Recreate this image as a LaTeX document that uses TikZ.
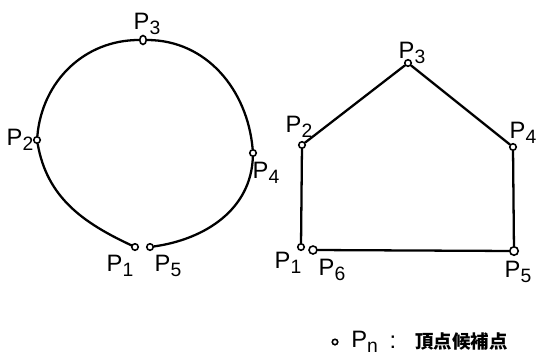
\documentclass[tikz,border=0pt]{standalone}
\usepackage{fontspec}
\setmainfont{Liberation Sans}
\newfontfamily\cjk{Noto Sans CJK JP}
\usetikzlibrary{shapes.geometric}
\newcommand{\plab}[1]{P\raisebox{-0.35ex}{\fontsize{11}{11}\selectfont #1}}

\begin{document}
\begin{tikzpicture}[x=0.02cm, y=0.02cm,
        vtx/.style={circle, draw, line width=0.9pt, fill=white, inner sep=0pt, minimum size=0.13cm},
        curve/.style={line width=1.3pt, line cap=round, line join=round},
        lbl/.style={font=\fontsize{13.5}{13.5}\selectfont, inner sep=0pt},
        ]
        \useasboundingbox (0,0) rectangle (545,356);

        % Left figure: closed curve with vertex candidates
        \foreach \n/\x/\y in {L1/135/109, L2/37/216, L4/253/203, L5/150/109} {
            \node[vtx] (\n) at (\x,\y) {};
        }
        \node[vtx, ellipse, minimum width=0.13cm, minimum height=0.18cm] (L3) at (143,316) {};
        \draw[curve] (L1) to[out=155, in=-80] (L2) to[out=85, in=180] (L3)
            to[out=0, in=95] (L4) to[out=-92, in=8] (L5);

        % Right figure: polygon
        \foreach \n/\x/\y in {R1/301/109, R2/302/211, R3/408/293, R4/513/209} {
            \node[vtx] (\n) at (\x,\y) {};
        }
        \node[vtx, minimum size=0.17cm] (R5) at (514,105) {};
        \node[vtx, minimum size=0.16cm] (R6) at (313,106) {};
        \draw[curve] (R1) -- (R2) -- (R3) -- (R4) -- (R5) -- (R6);

        % Labels
        \foreach \n/\k/\x/\y in {
            L1/1/120/90, L2/2/20/216, L3/3/147/332, L4/4/266/183, L5/5/168/90, % Left
            R1/1/288/93, R2/2/299/229, R3/3/412/303, R4/4/523/223, R5/5/518/84, R6/6/332/86 % Right
        } {
            \node[lbl] (t\n) at (\x,\y) {\plab{\k}};
        }

        % Legend
        \node[vtx, minimum size=0.11cm] (leg) at (335,14) {};
        \node[lbl, anchor=west] (legP) at (351,14) {\plab{n}};
        \node[lbl] (legC) at (393,14) {:};
        \node[anchor=west, inner sep=0pt, font=\cjk\bfseries\fontsize{10.5}{10.5}\selectfont] (legT) at (415,14) {頂点候補点};

    \end{tikzpicture}
\end{document}
